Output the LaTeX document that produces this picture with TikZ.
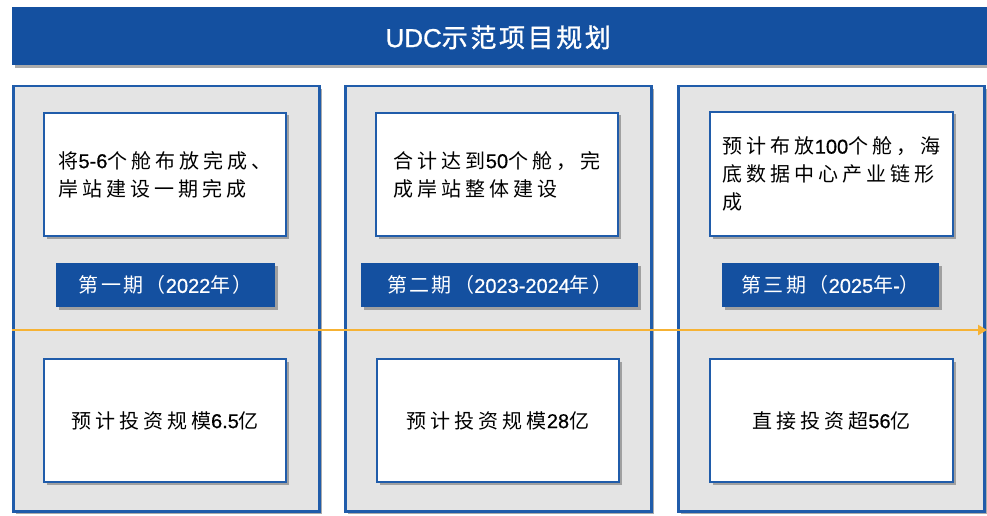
\documentclass[tikz,border=0pt]{standalone}
\usepackage{fontspec}
\setmainfont{Noto Sans CJK SC}
\newfontfamily\bodyfont[LetterSpace=20]{Noto Sans CJK SC}
\newfontfamily\labelfont[LetterSpace=12]{Noto Sans CJK SC}
\newfontfamily\headfont[LetterSpace=10,FakeBold=1.2]{Noto Sans CJK SC}
\newfontfamily\latinfont[FakeBold=0.6]{Liberation Sans}
\newfontfamily\latinhead[FakeBold=1]{Liberation Sans}
\newcommand\lt[1]{{\latinfont #1}}
\usetikzlibrary{shadows,arrows.meta}
\definecolor{titleblue}{RGB}{20,80,160}
\definecolor{edgeblue}{RGB}{32,92,170}
\definecolor{panelgray}{RGB}{228,228,228}
\definecolor{arroworange}{RGB}{246,178,52}
\tikzset{
  shade/.style={drop shadow={shadow xshift=2.5pt,shadow yshift=-2.5pt,fill=black!55,opacity=0.6}},
  titlebar/.style={fill=titleblue,shade,anchor=north west,inner sep=0pt,
    text=white,font=\fontsize{26}{30}\selectfont},
  panel/.style={fill=panelgray,draw=edgeblue,line width=2.5pt,shade,anchor=north west,inner sep=0pt},
  infobox/.style={fill=white,draw=edgeblue,line width=2pt,shade,anchor=north west,inner sep=0pt,
    align=left,font=\bodyfont\fontsize{20}{28}\selectfont},
  phasebox/.style={fill=titleblue,shade,anchor=north west,inner sep=0pt,
    text=white,font=\labelfont\fontsize{20}{24}\selectfont},
  timeline/.style={draw=arroworange,line width=2.8pt,-{Triangle[length=9pt,width=10pt]}}
}
\begin{document}
\begin{tikzpicture}[x=1pt,y=1pt]
\useasboundingbox (0,0) rectangle (987,-516);
% title
\node[titlebar,minimum width=990pt,minimum height=58pt,text depth=0pt] (title) at (12,-7)
  {\hspace*{-18pt}{\latinhead UDC}{\headfont 示范项目规划}};
% panels
\node[panel,minimum width=306pt,minimum height=425pt] (p1) at (12,-85) {};
\node[panel,minimum width=306pt,minimum height=425pt] (p2) at (344,-85) {};
\node[panel,minimum width=306pt,minimum height=425pt] (p3) at (677,-85) {};
% top info boxes
\node[infobox,minimum width=242pt,minimum height=123pt] (t1) at (43,-112)
  {将\lt{5-6}个舱布放完成、\\岸站建设一期完成};
\node[infobox,minimum width=242pt,minimum height=123pt] (t2) at (375,-112)
  {合计达到\lt{50}个舱，完\\成岸站整体建设};
\node[infobox,minimum width=243pt,minimum height=124pt] (t3) at (709,-111)
  {预计布放\lt{100}个舱，海\\底数据中心产业链形\\成};
% phase labels
\node[phasebox,minimum width=219pt,minimum height=44pt] (l1) at (56,-263) {第一期（\lt{2022}年）};
\node[phasebox,minimum width=277pt,minimum height=44pt] (l2) at (361,-263) {第二期（\lt{2023-2024}年）};
\node[phasebox,minimum width=217pt,minimum height=44pt] (l3) at (722,-263) {第三期（\lt{2025}年\lt{-}）};
% timeline
\coordinate (tstart) at (12,-330);
\coordinate (tend) at (987,-330);
\draw[timeline] (tstart) -- (tend);
% bottom boxes
\node[infobox,align=center,minimum width=242pt,minimum height=123pt] (b1) at (43,-358) {预计投资规模\lt{6.5}亿};
\node[infobox,align=center,minimum width=242pt,minimum height=123pt] (b2) at (376,-358) {预计投资规模\lt{28}亿};
\node[infobox,align=center,minimum width=243pt,minimum height=123pt] (b3) at (709,-358) {直接投资超\lt{56}亿};
\end{tikzpicture}
\end{document}
